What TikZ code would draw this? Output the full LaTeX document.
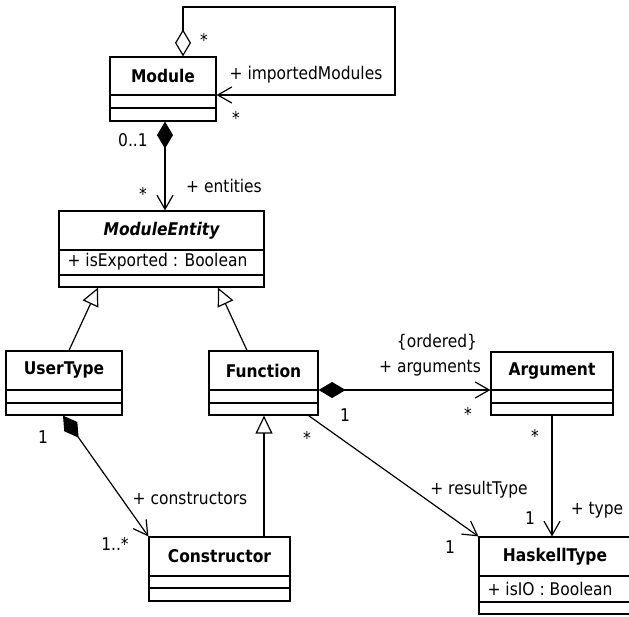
\documentclass[tikz,border=0pt]{standalone}
\usepackage{fontspec}
\setmainfont{DejaVu Sans}[FakeStretch=0.885]
\usetikzlibrary{arrows.meta}
\newcommand{\umlfs}{\fontsize{17.5}{20}\selectfont}
\tikzset{
  clsbox/.style={draw, rectangle, inner sep=0pt, fill=white},
  ttl/.style={font=\umlfs\bfseries, inner sep=0pt},
  attr/.style={inner sep=0pt, anchor=west},
  lbl/.style={inner sep=0pt},
  comp/.style={{Diamond[length=27pt,width=16pt]}-{Straight Barb[length=14pt,width=16pt]}},
  aggr/.style={{Diamond[open,length=27pt,width=16pt]}-{Straight Barb[length=14pt,width=16pt]}},
  assoc/.style={-{Straight Barb[length=14pt,width=16pt]}},
  gen/.style={-{Triangle[open,length=18pt,width=17pt]}},
}
\begin{document}
\begin{tikzpicture}[x=1pt,y=-1pt,line width=1.2pt,font=\umlfs]
\useasboundingbox (0,0) rectangle (629,616);

% classes
\node[clsbox, minimum width=106pt, minimum height=64pt] (module) at (163,89) {};
\draw (module.west |- 0,95) -- (module.east |- 0,95);
\draw (module.west |- 0,108) -- (module.east |- 0,108);
\node[ttl] (tmodule) at (163,76) {Module};

\node[clsbox, minimum width=205pt, minimum height=76pt] (mentity) at (161.5,249) {};
\draw (mentity.west |- 0,250) -- (mentity.east |- 0,250);
\draw (mentity.west |- 0,275) -- (mentity.east |- 0,275);
\node[ttl, font=\umlfs\bfseries\itshape] (tmentity) at (161.5,230.5) {ModuleEntity};
\node[attr] (amentity) at (67,262) {+ isExported : Boolean};

\node[clsbox, minimum width=116pt, minimum height=64pt] (usertype) at (64,383) {};
\draw (usertype.west |- 0,390) -- (usertype.east |- 0,390);
\draw (usertype.west |- 0,403) -- (usertype.east |- 0,403);
\node[ttl] (tusertype) at (64,370.5) {UserType};

\node[clsbox, minimum width=109pt, minimum height=64pt] (function) at (263.5,383) {};
\draw (function.west |- 0,390) -- (function.east |- 0,390);
\draw (function.west |- 0,403) -- (function.east |- 0,403);
\node[ttl] (tfunction) at (263.5,370.5) {Function};

\node[clsbox, minimum width=122pt, minimum height=63pt] (argument) at (552,383.5) {};
\draw (argument.west |- 0,390) -- (argument.east |- 0,390);
\draw (argument.west |- 0,403) -- (argument.east |- 0,403);
\node[ttl] (targument) at (552,371) {Argument};

\node[clsbox, minimum width=152pt, minimum height=77pt] (haskell) at (555,575.5) {};
\draw (haskell.west |- 0,576) -- (haskell.east |- 0,576);
\draw (haskell.west |- 0,602) -- (haskell.east |- 0,602);
\node[ttl] (thaskell) at (555,556.5) {HaskellType};
\node[attr] (ahaskell) at (487,589) {+ isIO : Boolean};

\node[clsbox, minimum width=141pt, minimum height=64pt] (constructor) at (219.5,569) {};
\draw (constructor.west |- 0,576) -- (constructor.east |- 0,576);
\draw (constructor.west |- 0,588) -- (constructor.east |- 0,588);
\node[ttl] (tconstructor) at (219.5,556.5) {Constructor};

% self association of Module
\coordinate (loopcorner) at (395,7);
\draw[aggr] ([xshift=20pt]module.north) |- (loopcorner) |- ([yshift=-6pt]module.east);
\node[lbl] (l1) at (204,40) {*};
\node[lbl] (l2) at (306,75) {+ importedModules};
\node[lbl] (l3) at (236,118) {*};

% Module -> ModuleEntity
\draw[comp] ([xshift=2pt]module.south) -- ([xshift=2pt]module.south |- mentity.north);
\node[lbl] (l4) at (133,140) {0..1};
\node[lbl] (l5) at (224,186) {+ entities};
\node[lbl] (l6) at (143,194) {*};

% generalizations
\draw[gen] ([xshift=5pt]usertype.north) -- ([xshift=-63.5pt]mentity.south);
\draw[gen] ([xshift=-16.5pt]function.north) -- ([xshift=56.5pt]mentity.south);
\draw[gen] ([xshift=44.5pt]constructor.north) -- ([xshift=44.5pt]constructor.north |- function.south);

% Function -> Argument
\draw[comp] ([yshift=-7pt]function.east) -- ([yshift=-7pt]function.east -| argument.west);
\node[lbl] (l7) at (437,342) {\{ordered\}};
\node[lbl] (l8) at (430,368) {+ arguments};
\node[lbl] (l9) at (345,415) {1};
\node[lbl] (l10) at (468,414) {*};

% Function -> HaskellType
\draw[assoc] ([xshift=-10pt]function.south east) -- (haskell.north west);
\node[lbl] (l11) at (307,438) {*};
\node[lbl] (l12) at (479,490) {+ resultType};
\node[lbl] (l13) at (450,547) {1};

% Argument -> HaskellType
\draw[assoc] (argument.south) -- (argument.south |- haskell.north);
\node[lbl] (l14) at (535,436) {*};
\node[lbl] (l15) at (530,518) {1};
\node[lbl] (l16) at (597,510) {+ type};

% UserType -> Constructor
\draw[comp] ([xshift=-1pt]usertype.south) -- (constructor.north west);
\node[lbl] (l17) at (43,437) {1};
\node[lbl] (l18) at (190,498) {+ constructors};
\node[lbl] (l19) at (115,544) {1..*};
\end{tikzpicture}
\end{document}
